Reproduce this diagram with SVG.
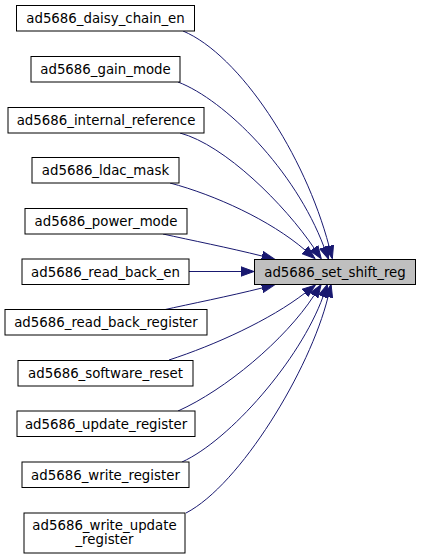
<svg xmlns="http://www.w3.org/2000/svg" width="421" height="559" viewBox="0 0 421 559">
<defs>
<style>
.n rect{fill:#ffffff;stroke:#000000;stroke-width:1}
.t rect{fill:#bfbfbf;stroke:#000000;stroke-width:1}
text{font-family:"DejaVu Sans","Liberation Sans",sans-serif;font-size:13.33px;text-anchor:middle;fill:#000000}
.e path{fill:none;stroke:#191970;stroke-width:1;marker-end:url(#ah)}
</style>
<marker id="ah" markerUnits="userSpaceOnUse" markerWidth="14" markerHeight="11" refX="0" refY="5.5" orient="auto">
<path d="M0,0.8 L13,5.5 L0,10.2 z" fill="#191970" stroke="#191970" stroke-width="1"/>
</marker>
</defs>
<rect width="421" height="559" fill="#ffffff"/>
<g id="edges" class="e">
<path d="M183,31 C240,55 305,155 329,246"/>
<path d="M178,82 C225,100 295,170 324,247"/>
<path d="M180,133 C225,145 285,205 314,248"/>
<path d="M170,183 C215,195 270,220 305,250"/>
<path d="M163,234 C190,240 230,248 262,256"/>
<path d="M189,271.5 L241,271.5"/>
<path d="M163,310 C190,304 230,296 262,288"/>
<path d="M169,360 C215,345 270,320 305,293"/>
<path d="M178,411 C225,390 285,340 314,295.5"/>
<path d="M182,462 C230,440 300,360 323,296.7"/>
<path d="M186,513 C240,485 310,370 328,297"/>
</g>
<g id="node_target" class="t"><rect x="254.5" y="259.5" width="161" height="25"/><text x="335" y="276.5">ad5686_set_shift_reg</text></g>
<g id="node1" class="n"><rect x="16.5" y="5.5" width="178" height="25.5"/><text x="105.5" y="23">ad5686_daisy_chain_en</text></g>
<g id="node2" class="n"><rect x="31" y="56.5" width="149" height="25.5"/><text x="105.5" y="74">ad5686_gain_mode</text></g>
<g id="node3" class="n"><rect x="8" y="107.5" width="196" height="25.5"/><text x="106" y="125">ad5686_internal_reference</text></g>
<g id="node4" class="n"><rect x="32" y="157.5" width="147" height="25.5"/><text x="105.5" y="175">ad5686_ldac_mask</text></g>
<g id="node5" class="n"><rect x="25" y="208.5" width="162" height="25.5"/><text x="106" y="226">ad5686_power_mode</text></g>
<g id="node6" class="n"><rect x="22" y="259" width="167" height="25.5"/><text x="105.5" y="276.5">ad5686_read_back_en</text></g>
<g id="node7" class="n"><rect x="5" y="309.5" width="202" height="25.5"/><text x="106" y="327">ad5686_read_back_register</text></g>
<g id="node8" class="n"><rect x="18" y="360.5" width="175" height="25.5"/><text x="105.5" y="378">ad5686_software_reset</text></g>
<g id="node9" class="n"><rect x="17" y="411" width="178" height="25.5"/><text x="106" y="428.5">ad5686_update_register</text></g>
<g id="node10" class="n"><rect x="22" y="462" width="167" height="25.5"/><text x="105.5" y="479.5">ad5686_write_register</text></g>
<g id="node11" class="n"><rect x="24" y="513" width="161" height="40"/><text x="104.5" y="529.5">ad5686_write_update</text><text x="104.5" y="544">_register</text></g>
</svg>
